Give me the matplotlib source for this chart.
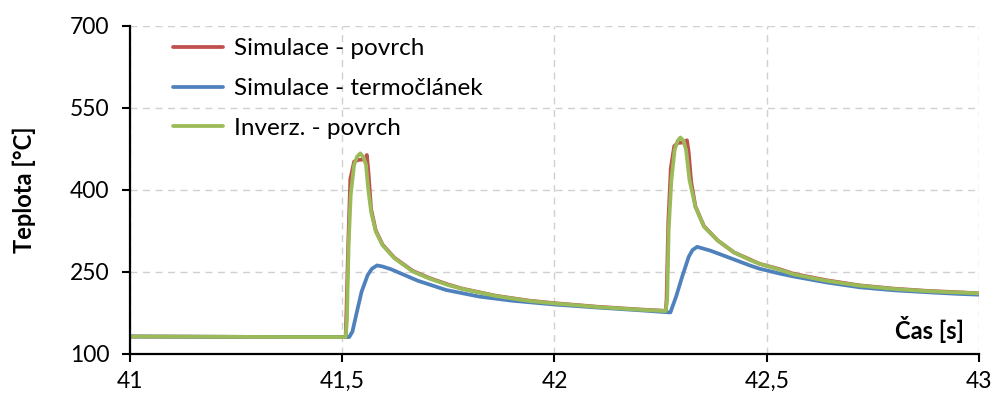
import matplotlib
matplotlib.use("Agg")
import matplotlib.pyplot as plt

plt.rcParams['font.family'] = ['Lato', 'DejaVu Sans']

# --- data ---
t_red = [41.0, 41.2, 41.4, 41.508, 41.510, 41.514, 41.519, 41.528, 41.538, 41.553, 41.558,
         41.562, 41.568, 41.579, 41.595, 41.623, 41.666, 41.705, 41.75, 41.783, 41.862, 41.941,
         42.0, 42.1, 42.2, 42.262, 42.264, 42.268, 42.274, 42.282, 42.29, 42.305, 42.312,
         42.316, 42.322, 42.332, 42.352, 42.384, 42.4225, 42.46, 42.483, 42.531, 42.562,
         42.64, 42.719, 42.8, 42.877, 42.95, 43.0]
v_red = [132, 131.5, 131, 131, 180, 300, 420, 452, 455, 456, 464,
         430, 365, 326, 300, 276, 252, 239, 227, 219.5, 206.5, 197.5,
         193, 186.5, 181.5, 179, 200, 340, 440, 480, 486, 487, 491,
         470, 415, 370, 334, 308, 286, 273, 265, 255, 247,
         235, 225.5, 219.5, 215.5, 213, 211]

t_blue = [41.0, 41.2, 41.4, 41.5165, 41.524, 41.5345, 41.5456, 41.560, 41.570, 41.582, 41.595,
          41.615, 41.645, 41.678, 41.745, 41.823, 41.9, 42.0, 42.1, 42.2, 42.273, 42.2865,
          42.3006, 42.3163, 42.325, 42.336, 42.3675, 42.4225, 42.46, 42.483, 42.531, 42.562,
          42.64, 42.719, 42.8, 42.877, 42.95, 43.0]
v_blue = [132, 131.5, 131, 131, 141, 177, 214, 244.5, 256, 262, 260,
          255, 245, 234, 217, 205, 197.5, 190.5, 185, 180, 176, 205,
          241, 278, 290, 296, 289, 273, 262, 256, 247, 242,
          231, 222, 216.5, 213, 210, 208.5]

t_green = [41.0, 41.2, 41.4, 41.508, 41.511, 41.515, 41.520, 41.528, 41.535, 41.5425, 41.550,
           41.556, 41.561, 41.568, 41.579, 41.595, 41.623, 41.666, 41.705, 41.75, 41.783,
           41.862, 41.941, 42.0, 42.1, 42.2, 42.262, 42.2655, 42.269, 42.2754, 42.283, 42.29,
           42.2966, 42.304, 42.310, 42.318, 42.332, 42.352, 42.384, 42.4225, 42.46, 42.483,
           42.531, 42.562, 42.64, 42.719, 42.8, 42.877, 42.95, 43.0]
v_green = [132, 131.5, 131, 131, 160, 299, 391, 446, 461, 467, 460,
           446, 403, 360, 324, 299, 275, 251, 238, 226, 219,
           206, 197, 192.5, 186, 181, 178.5, 200, 327, 418, 473, 490,
           496, 490, 473, 418, 369, 333, 308, 286, 272, 265,
           254, 246, 234, 225, 219, 215, 212.5, 211]

labels = ["Simulace - povrch", "Simulace - termočlánek", "Inverz. - povrch"]
xticks = [41, 41.5, 42, 42.5, 43]
xtick_labels = ["41", "41,5", "42", "42,5", "43"]
yticks = [100, 250, 400, 550, 700]

fig = plt.figure(figsize=(9.93, 3.99), dpi=100)
ax = fig.add_axes([0.1309, 0.1128, 0.8550, 0.8221])

lw = 2.7
kw = dict(lw=lw, solid_joinstyle='round', solid_capstyle='round')
ax.plot(t_red, v_red, color='#C0504D', label=labels[0], **kw)
ax.plot(t_blue, v_blue, color='#4F81BD', label=labels[1], **kw)
ax.plot(t_green, v_green, color='#9BBB59', label=labels[2], **kw)

ax.set_xlim(41, 43)
ax.set_ylim(100, 700)
ax.set_xticks(xticks)
ax.set_xticklabels(xtick_labels)
ax.set_yticks(yticks)
ax.tick_params(axis='both', labelsize=16.5, length=6, width=1.5, direction='out', colors='black')
ax.tick_params(axis='x', pad=6)
ax.tick_params(axis='y', pad=9)

ax.grid(True, color='#D0D0D0', linestyle=(0, (5, 4)), linewidth=1.0)
ax.set_axisbelow(True)
for s in ['top', 'right']:
    ax.spines[s].set_visible(False)
for s in ['left', 'bottom']:
    ax.spines[s].set_linewidth(1.6)

ax.set_ylabel("Teplota [°C]", fontsize=17, fontweight='bold')
ax.yaxis.set_label_coords(-0.111, 0.5)
ax.text(0.982, 0.035, "Čas [s]", transform=ax.transAxes, ha='right', va='bottom',
        fontsize=17, fontweight='bold')

leg = ax.legend(loc='upper left', bbox_to_anchor=(0.0506, 0.962), frameon=False, fontsize=17.5,
                handlelength=2.05, handletextpad=0.45, labelspacing=0.77,
                borderpad=0, borderaxespad=0)

fig.savefig("out.png", dpi=100)
